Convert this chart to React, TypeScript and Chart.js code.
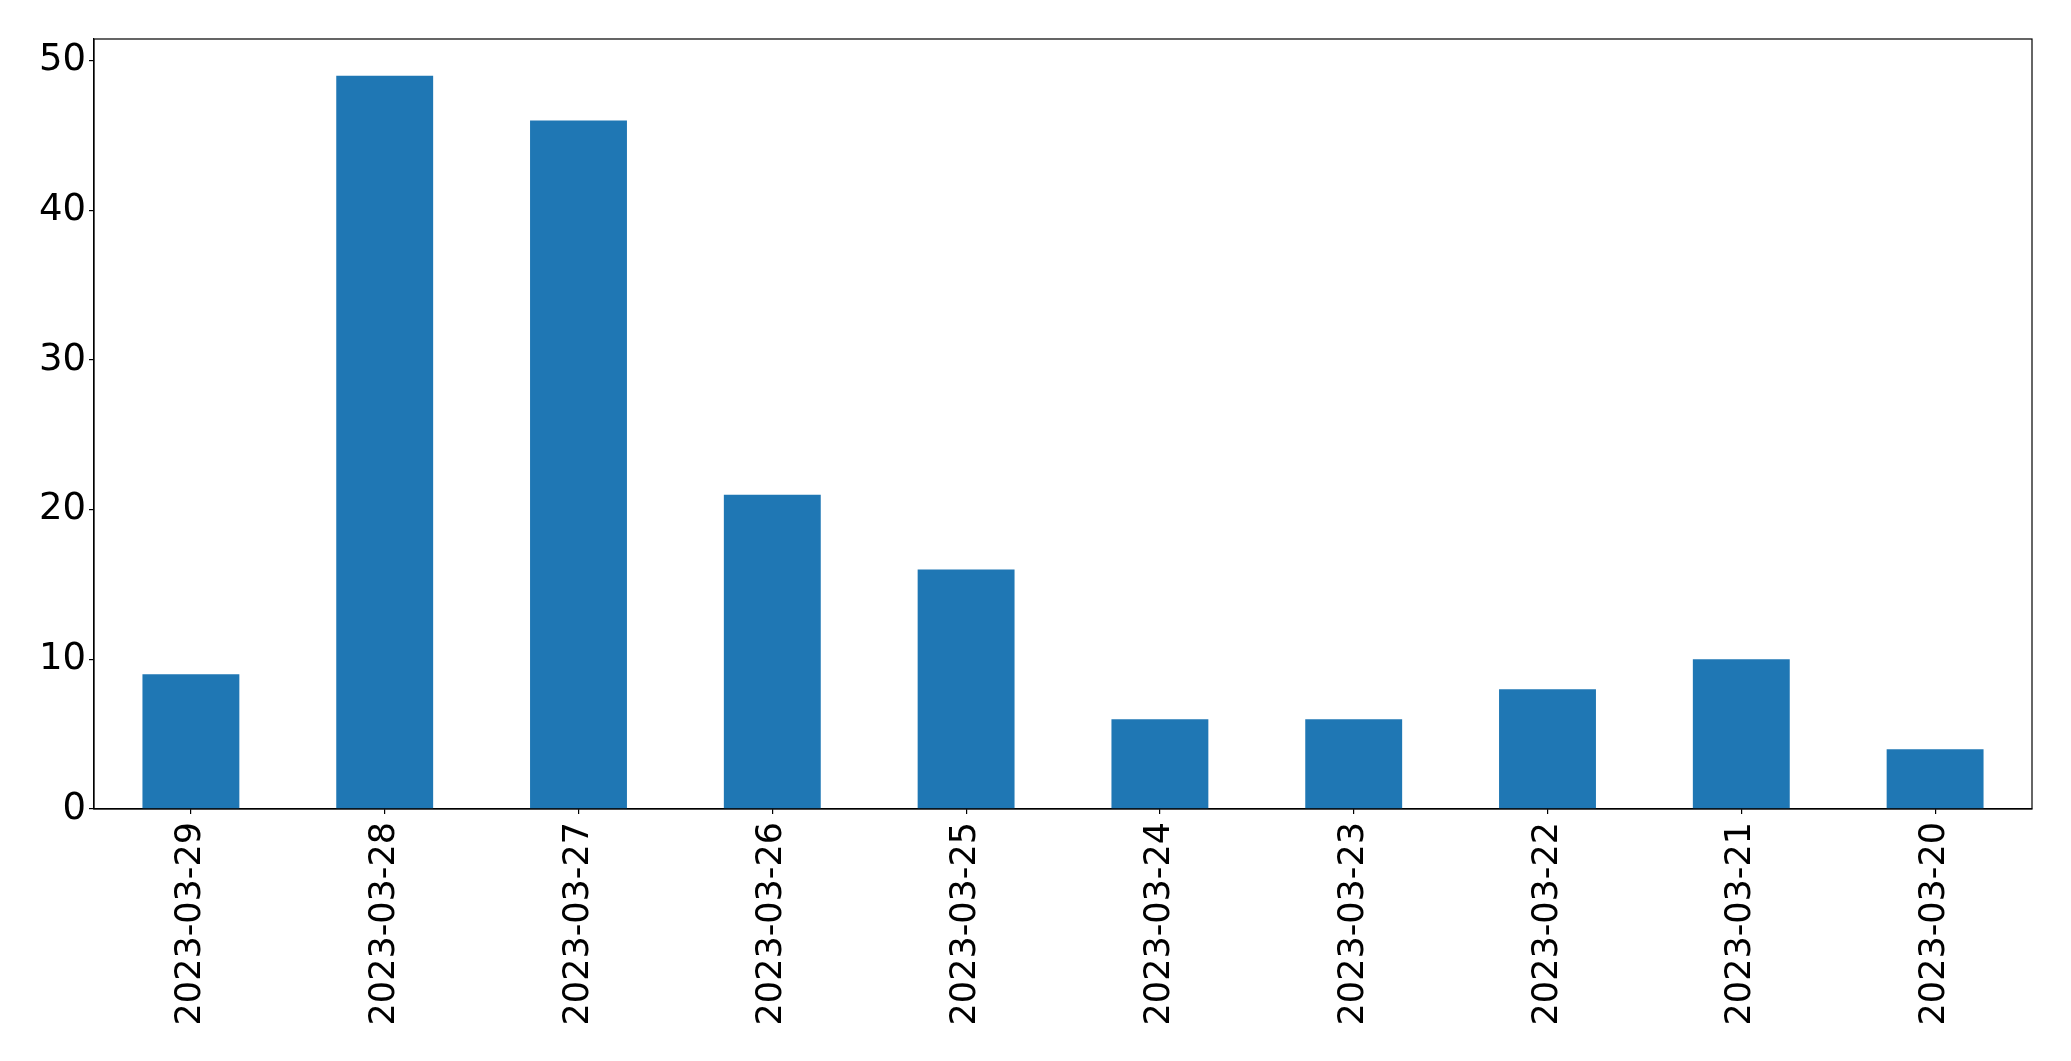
import React, { useEffect, useRef } from "react";
import { Chart, registerables } from "chart.js";

Chart.register(...registerables);

const categories = [
  "2023-03-29",
  "2023-03-28",
  "2023-03-27",
  "2023-03-26",
  "2023-03-25",
  "2023-03-24",
  "2023-03-23",
  "2023-03-22",
  "2023-03-21",
  "2023-03-20",
];
const counts = [9, 49, 46, 21, 16, 6, 6, 8, 10, 4];
const yTicks = [0, 10, 20, 30, 40, 50];

const framePlugin = {
  id: "frame",
  afterDraw(chart: any) {
    const { ctx, chartArea } = chart;
    ctx.save();
    ctx.strokeStyle = "#000";
    ctx.lineWidth = 1.2;
    ctx.strokeRect(chartArea.left, chartArea.top, chartArea.right - chartArea.left, chartArea.bottom - chartArea.top);
    ctx.restore();
  },
};

export default function App() {
  const ref = useRef<HTMLCanvasElement>(null);
  useEffect(() => {
    document.body.style.margin = "0";
    const chart = new Chart(ref.current!, {
      type: "bar",
      data: {
        labels: categories,
        datasets: [
          {
            data: counts,
            backgroundColor: "#1f77b4",
            barPercentage: 0.5,
            categoryPercentage: 1,
          },
        ],
      },
      options: {
        animation: false,
        responsive: false,
        maintainAspectRatio: false,
        devicePixelRatio: 1,
        layout: { padding: { top: 39, right: 39, left: 0, bottom: 0 } },
        plugins: { legend: { display: false }, tooltip: { enabled: false } },
        scales: {
          x: {
            grid: { drawOnChartArea: false, offset: false, tickLength: 5, color: "#000", lineWidth: 1.2 },
            border: { display: true, color: "#000", width: 1.2 },
            ticks: {
              color: "#000",
              font: { family: "DejaVu Sans", size: 35 },
              maxRotation: 90,
              minRotation: 90,
              padding: 8,
              autoSkip: false,
            },
            afterFit(scale: any) {
              scale.height = 1061 - 809;
            },
          },
          y: {
            min: 0,
            max: 51.45,
            grid: { drawOnChartArea: false, tickLength: 5, color: "#000", lineWidth: 1.2 },
            border: { display: true, color: "#000", width: 1.2 },
            afterBuildTicks(scale: any) {
              scale.ticks = yTicks.map((v) => ({ value: v }));
            },
            ticks: {
              color: "#000",
              font: { family: "DejaVu Sans", size: 37 },
              padding: 3,
              includeBounds: false,
            },
            afterFit(scale: any) {
              scale.width = 94;
            },
          },
        },
      },
      plugins: [framePlugin],
    });
    return () => chart.destroy();
  }, []);
  return (
    <div style={{ width: 2071, height: 1061, background: "#fff" }}>
      <canvas ref={ref} width={2071} height={1061} style={{ display: "block" }} />
    </div>
  );
}
